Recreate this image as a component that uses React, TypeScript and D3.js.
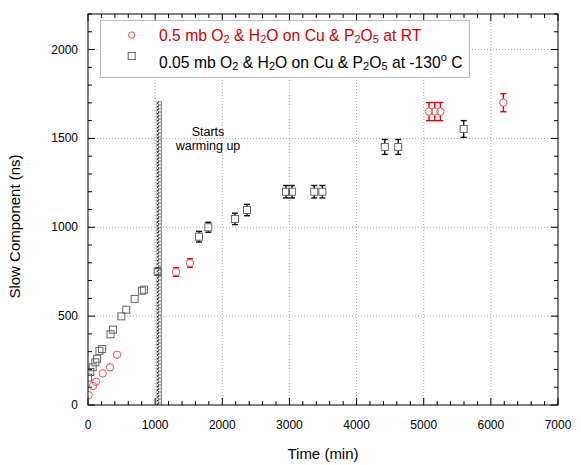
import React from "react";
import * as d3 from "d3";

// room temperature run (red circles)
const rtTime = [10, 75, 119, 219, 328, 432, 1311, 1519, 5079, 5164, 5248, 6186];
const rtSlow = [55, 107, 131, 178, 212, 283, 748, 799, 1651, 1651, 1651, 1701];
const rtErr = [0, 0, 0, 0, 0, 0, 24, 24, 51, 51, 51, 51];

// -130 C run (grey squares)
const coldTime = [0, 35, 70, 110, 135, 170, 210, 335, 372, 497, 570, 695, 804, 834, 1038, 1653, 1792, 2189, 2368, 2949, 3039, 3370, 3490, 4420, 4620, 5595];
const coldSlow = [154, 186, 212, 240, 260, 305, 315, 398, 424, 499, 536, 597, 643, 649, 750, 947, 1000, 1047, 1097, 1200, 1200, 1200, 1200, 1452, 1452, 1553];
const coldErr = [0, 0, 0, 0, 0, 0, 0, 0, 0, 0, 0, 0, 0, 0, 20, 30, 28, 32, 32, 35, 35, 35, 35, 42, 42, 47];

// warming marker column
const warmTime = 1060;
const warmTop = 1710;

const xTicks = [0, 1000, 2000, 3000, 4000, 5000, 6000, 7000];
const yTicks = [0, 500, 1000, 1500, 2000];

// legend text pieces: [normal, subscript]
const legendRT: [string, string][] = [["0.5 mb O", "2"], [" & H", "2"], ["O on Cu & P", "2"], ["O", "5"], [" at RT", ""]];
const legendCold: [string, string][] = [["0.05 mb O", "2"], [" & H", "2"], ["O on Cu & P", "2"], ["O", "5"], [" at -130", ""]];

const W = 581;
const H = 465;
const margin = { left: 88, right: 23, top: 14, bottom: 60 };

const font = "'Liberation Sans', Arial, Helvetica, sans-serif";

function subText(parts: [string, string][]) {
  const out: React.ReactNode[] = [];
  let shifted = false;
  parts.forEach(([txt, sub], i) => {
    out.push(<tspan key={"t" + i} dy={shifted ? -2 : 0}>{txt}</tspan>);
    shifted = false;
    if (sub) {
      out.push(<tspan key={"s" + i} fontSize={11} dy={2}>{sub}</tspan>);
      shifted = true;
    }
  });
  return out;
}

export default function App() {
  const x = d3.scaleLinear().domain([0, 7000]).range([margin.left, W - margin.right]);
  const y = d3.scaleLinear().domain([0, 2200]).range([H - margin.bottom, margin.top]);
  const [x0, x1] = x.range();
  const [y0, y1] = y.range();

  const xMinor = d3.range(0, 7001, 200).filter((v) => v % 1000 !== 0);
  const yMinor = d3.range(0, 2201, 100).filter((v) => v % 500 !== 0);

  const rt = rtTime.map((t, i) => ({ t, v: rtSlow[i], e: rtErr[i] }));
  const cold = coldTime.map((t, i) => ({ t, v: coldSlow[i], e: coldErr[i] }));

  const r = 3.7;
  const s = 7;

  const errBar = (d: { t: number; v: number; e: number }, color: string, gap: number, key: string) => {
    if (!d.e) return null;
    const cx = x(d.t);
    const ya = y(d.v + d.e);
    const yb = y(d.v - d.e);
    const cy = y(d.v);
    return (
      <g key={key} stroke={color} strokeWidth={1.4}>
        <line x1={cx} x2={cx} y1={ya} y2={cy - gap} />
        <line x1={cx} x2={cx} y1={cy + gap} y2={yb} />
        <line x1={cx - 3} x2={cx + 3} y1={ya} y2={ya} />
        <line x1={cx - 3} x2={cx + 3} y1={yb} y2={yb} />
      </g>
    );
  };

  return (
    <svg width={W} height={H} style={{ position: "absolute", left: 0, top: 0 }} fontFamily={font}>
      <defs>
        <pattern id="xmark" width={5} height={3.5} patternUnits="userSpaceOnUse">
          <path d="M0.7,0.3 L4.3,3.2 M4.3,0.3 L0.7,3.2" stroke="#111" strokeWidth={1} />
        </pattern>
        <clipPath id="plot">
          <rect x={x0} y={y1} width={x1 - x0} height={y0 - y1} />
        </clipPath>
      </defs>
      <rect width={W} height={H} fill="#fff" />

      {/* grid */}
      <g stroke="#aaa" strokeWidth={1} strokeDasharray="1,2">
        {xTicks.slice(1, -1).map((v) => (
          <line key={"gx" + v} x1={x(v)} x2={x(v)} y1={y0} y2={y1} />
        ))}
        {yTicks.slice(1).map((v) => (
          <line key={"gy" + v} x1={x0} x2={x1} y1={y(v)} y2={y(v)} />
        ))}
      </g>

      {/* ticks on all sides */}
      <g stroke="#000" strokeWidth={1}>
        {xTicks.map((v) => (
          <g key={"tx" + v}>
            <line x1={x(v)} x2={x(v)} y1={y0} y2={y0 - 7} />
            <line x1={x(v)} x2={x(v)} y1={y1} y2={y1 + 7} />
          </g>
        ))}
        {xMinor.map((v) => (
          <g key={"mx" + v}>
            <line x1={x(v)} x2={x(v)} y1={y0} y2={y0 - 4} />
            <line x1={x(v)} x2={x(v)} y1={y1} y2={y1 + 4} />
          </g>
        ))}
        {yTicks.map((v) => (
          <g key={"ty" + v}>
            <line x1={x0} x2={x0 + 7} y1={y(v)} y2={y(v)} />
            <line x1={x1} x2={x1 - 7} y1={y(v)} y2={y(v)} />
          </g>
        ))}
        {yMinor.map((v) => (
          <g key={"my" + v}>
            <line x1={x0} x2={x0 + 4} y1={y(v)} y2={y(v)} />
            <line x1={x1} x2={x1 - 4} y1={y(v)} y2={y(v)} />
          </g>
        ))}
      </g>

      {/* warming marker */}
      <rect x={x(warmTime) - 2.5} y={y(warmTop)} width={5} height={y(0) - y(warmTop)} fill="url(#xmark)" />
      <text x={208} y={136} fontSize={12.5} textAnchor="middle">Starts</text>
      <text x={208} y={150} fontSize={12.5} textAnchor="middle">warming up</text>

      <g clipPath="url(#plot)">
        {cold.map((d, i) => errBar(d, "#111", s / 2, "ce" + i))}
        {rt.map((d, i) => errBar(d, "#e00000", r, "re" + i))}
        {cold.map((d, i) => (
          <rect key={"c" + i} x={x(d.t) - s / 2} y={y(d.v) - s / 2} width={s} height={s} fill="none" stroke="#666" strokeWidth={1} />
        ))}
        {rt.map((d, i) => (
          <circle key={"r" + i} cx={x(d.t)} cy={y(d.v)} r={r} fill="none" stroke="#e05050" strokeWidth={1} />
        ))}
      </g>

      {/* frame */}
      <rect x={x0} y={y1} width={x1 - x0} height={y0 - y1} fill="none" stroke="#000" strokeWidth={1} />

      {/* tick labels */}
      <g fontSize={12} fill="#000">
        {xTicks.map((v) => (
          <text key={"lx" + v} x={x(v)} y={429} textAnchor="middle">{v}</text>
        ))}
        {yTicks.map((v) => (
          <text key={"ly" + v} x={78} y={y(v) + 4} textAnchor="end">{v}</text>
        ))}
      </g>

      <text x={(x0 + x1) / 2} y={459} fontSize={15} textAnchor="middle">Time (min)</text>
      <text transform={`translate(20,${(y0 + y1) / 2 + 17}) rotate(-90)`} fontSize={15} textAnchor="middle">
        Slow Component (ns)
      </text>

      {/* legend */}
      <rect x={100.5} y={20.5} width={369} height={57} fill="#fff" stroke="#bbb" strokeWidth={1} />
      <circle cx={131.7} cy={35} r={3.2} fill="none" stroke="#e05050" strokeWidth={1} />
      <rect x={128.2} y={52.5} width={7} height={7} fill="none" stroke="#666" strokeWidth={1} />
      <text x={159} y={40.5} fontSize={15.7} fill="#d00000">
        {subText(legendRT)}
      </text>
      <text x={159} y={68} fontSize={15.7} fill="#000">
        {subText(legendCold)}
        <tspan fontSize={11} dy={-7}>o</tspan>
        <tspan dy={7}> C</tspan>
      </text>
    </svg>
  );
}
